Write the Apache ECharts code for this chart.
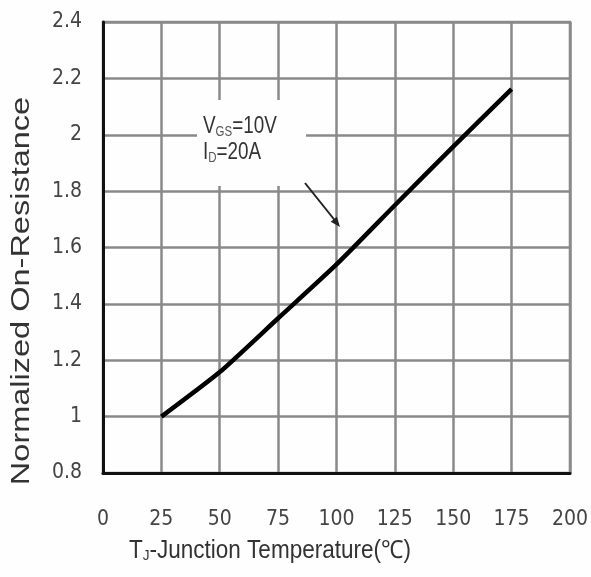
<!DOCTYPE html>
<html>
<head>
<meta charset="utf-8">
<script src="https://cdn.jsdelivr.net/npm/echarts@6/dist/echarts.min.js"></script>
<style>
html,body{margin:0;padding:0;background:#fefefe;}
#main{width:591px;height:577px;}
</style>
</head>
<body>
<div id="main"></div>
<script>
var temps = [25, 50, 75, 100, 125, 150, 175];
var resistance = [1.0, 1.158, 1.349, 1.54, 1.75, 1.958, 2.162];
var xTicks = [0, 25, 50, 75, 100, 125, 150, 175, 200];
var yTicks = [0.8, 1, 1.2, 1.4, 1.6, 1.8, 2, 2.2, 2.4];
var yTitle = 'Normalized On-Resistance';
var xTitle = 'T{sub|J}-Junction Temperature(℃)';
var noteLine1 = 'V{sub|GS}=10V';
var noteLine2 = 'I{sub|D}=20A';

var cond = '"DejaVu Sans Condensed","Liberation Sans",sans-serif';
var sans = '"Liberation Sans",Arial,sans-serif';
var chart = echarts.init(document.getElementById('main'));
chart.setOption({
  backgroundColor: '#fefefe',
  animation: false,
  grid: {left: 103, right: 19, top: 22, bottom: 104, show: true, borderColor: '#8a8a8a', borderWidth: 2.5},
  xAxis: {
    type: 'value', min: 0, max: 200, interval: 25,
    axisLine: {show: true, onZero: false, lineStyle: {color: '#111', width: 3}},
    axisTick: {show: false},
    splitLine: {show: true, lineStyle: {color: '#8a8a8a', width: 2.5}},
    axisLabel: {margin: 36, color: '#444', fontSize: 21, fontFamily: cond,
      formatter: function (v) { return xTicks.indexOf(v) >= 0 ? String(v) : ''; }}
  },
  yAxis: {
    type: 'value', min: 0.8, max: 2.4, interval: 0.2,
    axisLine: {show: true, onZero: false, lineStyle: {color: '#111', width: 3}},
    axisTick: {show: false},
    splitLine: {show: true, lineStyle: {color: '#8a8a8a', width: 2.5}},
    axisLabel: {margin: 21, color: '#444', fontSize: 21, fontFamily: cond,
      formatter: function (v) {
        var r = Math.round(v * 10) / 10;
        return yTicks.indexOf(r) >= 0 ? String(r) : '';
      }}
  },
  series: [{
    type: 'line',
    data: temps.map(function (t, i) { return [t, resistance[i]]; }),
    symbol: 'none',
    smooth: 0.2,
    lineStyle: {color: '#000', width: 4.5},
    z: 5
  }],
  graphic: [
    {type: 'rect', left: 197, top: 100, shape: {width: 109, height: 86}, style: {fill: '#fefefe'}, z: 10},
    {type: 'text', x: 203, y: 114, scaleX: 0.82, z: 11, style: {
      text: noteLine1 + '\n' + noteLine2,
      font: '23px ' + sans, fill: '#333', lineHeight: 26,
      rich: {sub: {fontSize: 14, fontFamily: sans, fill: '#555', padding: [10, 0, 0, 0]}}
    }},
    {type: 'line', z: 11, shape: {x1: 305, y1: 183, x2: 337, y2: 223}, style: {stroke: '#222', lineWidth: 2}},
    {type: 'polygon', z: 11, shape: {points: [[340, 227], [330.7, 221.7], [336.9, 216.7]]}, style: {fill: '#222'}},
    {type: 'text', z: 11, x: 22, y: 291, rotation: Math.PI / 2, scaleX: 1.3, style: {
      text: yTitle, font: '25px ' + sans, fill: '#333',
      align: 'center', verticalAlign: 'middle'
    }},
    {type: 'text', z: 11, x: 270, y: 551, scaleX: 0.9, style: {
      text: xTitle, font: '25px ' + sans, fill: '#333',
      align: 'center', verticalAlign: 'middle',
      rich: {sub: {fontSize: 15, fontFamily: sans, fill: '#333', padding: [10, 0, 0, 0]}}
    }}
  ]
});
</script>
</body>
</html>
